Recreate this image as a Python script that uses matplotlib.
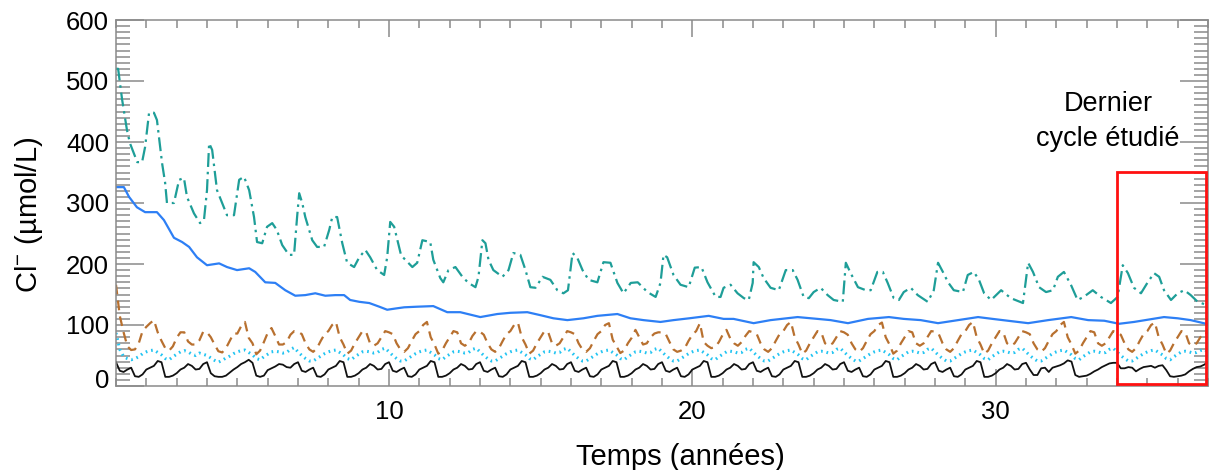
import numpy as np
import matplotlib.pyplot as plt
import matplotlib.transforms as mtransforms
from matplotlib.patches import Rectangle
from matplotlib.ticker import MultipleLocator

plt.rcParams['font.family'] = ['Liberation Sans', 'DejaVu Sans']
plt.rcParams['mathtext.fontset'] = 'custom'
plt.rcParams['mathtext.rm'] = 'Liberation Sans'
plt.rcParams['lines.scale_dashes'] = False

# teal dash-dot series (years, umol/L), turning points
teal_t = [1.0, 1.07, 1.2, 1.36, 1.46, 1.7, 1.86, 1.96, 2.09, 2.25, 2.35, 2.52, 2.62, 2.68, 2.91,
          3.08, 3.24, 3.34, 3.57, 3.77, 3.9, 4.0, 4.07, 4.17, 4.33, 4.5, 4.66, 4.89, 5.06, 5.22,
          5.39, 5.55, 5.65, 5.82, 5.98, 6.15, 6.3, 6.48, 6.7, 6.87, 6.97, 7.04, 7.14, 7.24, 7.47,
          7.63, 7.86, 8.03, 8.13, 8.29, 8.46, 8.62, 8.85, 9.02, 9.22, 9.38, 9.61, 9.84, 9.94,
          10.04, 10.17, 10.4, 10.77, 10.93, 11.1, 11.36, 11.46, 11.69, 11.79, 11.96, 12.19, 12.42,
          12.62, 12.85, 12.95, 13.08, 13.18, 13.28, 13.44, 13.74, 13.94, 14.1, 14.33, 14.5, 14.66,
          14.83, 15.06, 15.32, 15.55, 15.75, 15.9, 16.05, 16.2, 16.38, 16.58, 16.87, 17.07, 17.3,
          17.53, 17.73, 17.97, 18.2, 18.52, 18.79, 18.95, 19.05, 19.17, 19.38, 19.61, 19.88, 20.08,
          20.3, 20.5, 20.6, 20.77, 20.93, 21.03, 21.26, 21.49, 21.7, 21.86, 21.99, 22.02, 22.19,
          22.35, 22.58, 22.85, 23.08, 23.31, 23.47, 23.67, 23.84, 24.0, 24.23, 24.46, 24.66, 24.96,
          25.06, 25.22, 25.46, 25.72, 25.88, 26.1, 26.28, 26.44, 26.64, 26.81, 26.97, 27.2, 27.43,
          27.76, 27.96, 28.1, 28.26, 28.43, 28.62, 28.92, 29.08, 29.28, 29.45, 29.62, 29.85, 30.18,
          30.5, 30.9, 31.07, 31.23, 31.43, 31.66, 31.89, 32.05, 32.25, 32.48, 32.7, 32.9, 33.2,
          33.47, 33.8, 34.02, 34.19, 34.36, 34.56, 34.79, 35.0, 35.22, 35.39, 35.55, 35.78, 36.0,
          36.22, 36.43, 36.66, 36.94, 37.0]
teal_v = [520, 520, 470, 420, 398, 367, 367, 392, 448, 448, 436, 365, 333, 300, 300,
          338, 341, 310, 283, 267, 272, 321, 398, 387, 321, 300, 280, 280, 338, 343,
          321, 277, 236, 234, 261, 267, 256, 231, 215, 215, 277, 316, 300, 277, 239,
          228, 228, 256, 277, 277, 234, 202, 195, 211, 223, 211, 190, 182, 211,
          269, 261, 214, 195, 202, 239, 236, 207, 177, 170, 190, 195, 179,
          169, 162, 179, 239, 234, 207, 190, 179, 190, 218, 215, 190, 162,
          161, 179, 174, 157, 152, 157, 218, 211, 190, 174, 170, 203, 202,
          169, 152, 169, 170, 154, 146, 169, 215, 211, 182, 166, 162, 194,
          195, 170, 161, 146, 146, 161, 166, 152, 144, 141, 169, 203, 195,
          177, 161, 157, 190, 190, 174, 146, 144, 154, 161, 149, 141, 138,
          202, 185, 162, 157, 157, 187, 187, 169, 144, 141, 154, 161, 149,
          138, 157, 202, 187, 170, 157, 154, 182, 187, 174, 152, 141, 157,
          144, 136, 202, 187, 162, 154, 157, 179, 187, 166, 141, 146, 157,
          146, 136, 146, 198, 185, 161, 152, 169, 185, 179, 157, 141, 152,
          157, 149, 138, 133, 132]

# blue solid series
blue_t = [1.0, 1.26, 1.43, 1.69, 1.96, 2.35, 2.58, 2.91, 3.18, 3.41, 3.67, 4.0, 4.4, 4.66, 4.99,
          5.39, 5.59, 5.92, 6.25, 6.58, 6.91, 7.24, 7.57, 7.9, 8.23, 8.52, 8.72, 9.02, 9.35, 9.68,
          9.94, 10.21, 10.5, 10.93, 11.46, 11.92, 12.35, 13.01, 13.57, 14.0, 14.56, 15.0, 15.42,
          15.88, 16.41, 16.87, 17.53, 17.96, 18.39, 18.95, 19.38, 19.9, 20.54, 21.03, 21.36, 22.02,
          22.58, 23.47, 24.13, 24.56, 25.13, 25.79, 26.48, 26.97, 27.53, 28.1, 28.76, 29.42, 29.9,
          30.4, 31.07, 31.73, 32.49, 33.05, 33.58, 34.07, 34.56, 35.55, 36.0, 36.43, 36.94, 37.0]
blue_v = [326, 326, 310, 293, 285, 285, 272, 243, 236, 228, 211, 198, 201, 195, 190,
          193, 187, 170, 169, 157, 148, 149, 152, 148, 149, 149, 141, 138, 136, 130,
          125, 127, 129, 130, 131, 121, 121, 113, 118, 120, 121, 116, 111,
          108, 111, 115, 118, 111, 108, 105, 108, 111, 115, 110, 110, 103,
          108, 113, 110, 108, 103, 110, 113, 110, 108, 103, 108, 113, 110,
          107, 103, 108, 113, 108, 107, 102, 105, 113, 111, 108, 102, 101]

# lower series, sampled every 1/8 year; one row per 3-year cycle (1-4, 4-7, ..., 34-37)
brown_rows = [
    [166, 115, 88, 65, 59, 60, 70, 90, 97, 103, 108, 88, 74, 62, 58, 65, 79, 88, 88, 73, 68, 68, 75, 89],
    [88, 80, 68, 57, 55, 62, 74, 86, 86, 98, 105, 79, 70, 52, 58, 72, 87, 95, 82, 68, 68, 72, 84, 90],
    [89, 85, 70, 60, 56, 62, 74, 85, 90, 100, 105, 80, 68, 53, 58, 70, 80, 90, 88, 70, 66, 70, 80, 90],
    [88, 85, 70, 60, 56, 62, 74, 85, 90, 100, 105, 80, 68, 53, 58, 70, 80, 90, 88, 70, 66, 70, 82, 90],
    [89, 84, 70, 60, 56, 62, 74, 85, 90, 100, 104, 80, 68, 53, 58, 70, 80, 90, 88, 70, 66, 70, 80, 90],
    [88, 85, 70, 60, 56, 62, 74, 85, 90, 100, 103, 76, 65, 54, 58, 70, 79, 92, 80, 68, 70, 80, 86, 88],
    [88, 85, 72, 60, 56, 58, 62, 74, 84, 90, 103, 72, 66, 62, 64, 72, 84, 92, 78, 70, 66, 72, 82, 90],
    [88, 85, 70, 60, 56, 62, 74, 85, 90, 100, 105, 80, 68, 53, 58, 70, 80, 90, 88, 70, 66, 70, 80, 90],
    [88, 84, 70, 60, 56, 62, 74, 85, 90, 100, 104, 80, 68, 53, 58, 70, 80, 90, 88, 70, 66, 70, 80, 90],
    [89, 85, 70, 60, 56, 62, 74, 85, 90, 100, 105, 80, 68, 53, 58, 70, 80, 90, 88, 70, 66, 70, 80, 90],
    [88, 85, 70, 60, 56, 62, 74, 85, 90, 100, 105, 80, 68, 53, 58, 70, 80, 90, 88, 70, 66, 70, 80, 90],
    [88, 84, 70, 60, 56, 62, 74, 85, 90, 100, 104, 80, 68, 53, 58, 70, 80, 90, 88, 70, 66, 70, 80, 88],
]
brown_end = 86

cyan_rows = [
    [87, 60, 48, 45, 43, 45, 48, 53, 56, 58, 59, 55, 51, 45, 43, 48, 52, 56, 58, 56, 52, 50, 54, 52],
    [50, 46, 42, 39, 42, 46, 49, 53, 56, 58, 59, 55, 51, 45, 43, 48, 52, 56, 57, 56, 54, 55, 60, 63],
    [56, 50, 45, 41, 41, 45, 49, 53, 56, 58, 59, 55, 51, 45, 43, 48, 52, 56, 57, 56, 54, 55, 60, 62],
    [56, 50, 45, 41, 41, 45, 49, 53, 56, 58, 59, 55, 51, 45, 43, 48, 52, 56, 57, 56, 54, 55, 60, 62],
    [56, 50, 45, 41, 41, 45, 49, 53, 56, 58, 59, 55, 51, 45, 43, 48, 52, 56, 57, 56, 54, 55, 60, 62],
    [56, 50, 45, 41, 41, 45, 49, 53, 56, 58, 59, 55, 51, 45, 43, 48, 52, 56, 57, 56, 54, 55, 60, 62],
    [56, 50, 45, 41, 41, 45, 49, 53, 56, 58, 59, 55, 51, 45, 43, 48, 52, 56, 57, 56, 54, 55, 60, 62],
    [56, 50, 45, 41, 41, 45, 49, 53, 56, 58, 59, 55, 51, 45, 43, 48, 52, 56, 57, 56, 54, 55, 60, 62],
    [56, 50, 45, 41, 41, 45, 49, 53, 56, 58, 59, 55, 51, 45, 43, 48, 52, 56, 57, 56, 54, 55, 60, 62],
    [56, 50, 45, 41, 41, 45, 49, 53, 56, 58, 59, 55, 51, 45, 43, 48, 52, 56, 57, 56, 54, 55, 60, 62],
    [56, 50, 45, 41, 41, 45, 49, 53, 56, 58, 59, 55, 51, 45, 43, 48, 52, 56, 57, 56, 54, 55, 60, 62],
    [56, 50, 45, 41, 41, 45, 49, 53, 56, 58, 59, 55, 51, 45, 43, 48, 52, 56, 57, 56, 54, 55, 58, 60],
]
cyan_end = 56

black_rows = [
    [39, 25, 23, 27, 30, 16, 15, 19, 27, 30, 33, 41, 39, 15, 15, 17, 21, 27, 30, 36, 33, 27, 28, 36],
    [39, 21, 16, 15, 15, 17, 22, 27, 31, 36, 39, 43, 38, 17, 15, 17, 26, 29, 32, 36, 35, 31, 30, 36],
    [39, 25, 23, 27, 30, 16, 15, 19, 27, 30, 33, 41, 39, 15, 15, 17, 21, 27, 30, 36, 33, 27, 28, 36],
    [39, 25, 23, 27, 30, 16, 15, 19, 27, 30, 33, 41, 39, 15, 15, 17, 21, 27, 30, 36, 33, 27, 28, 36],
    [39, 25, 23, 27, 30, 16, 15, 19, 27, 30, 33, 41, 39, 15, 15, 17, 21, 27, 30, 36, 33, 27, 28, 36],
    [39, 25, 23, 27, 30, 16, 15, 19, 27, 30, 33, 41, 39, 15, 15, 17, 21, 27, 30, 36, 33, 27, 28, 36],
    [39, 25, 23, 27, 30, 16, 15, 19, 27, 30, 33, 41, 39, 15, 15, 17, 21, 27, 30, 36, 33, 27, 28, 36],
    [39, 25, 23, 27, 30, 16, 15, 19, 27, 30, 33, 41, 39, 15, 15, 17, 21, 27, 30, 36, 33, 27, 28, 36],
    [39, 25, 23, 27, 30, 16, 15, 19, 27, 30, 33, 41, 39, 15, 15, 17, 21, 27, 30, 36, 33, 27, 28, 36],
    [39, 25, 23, 27, 30, 16, 15, 19, 27, 30, 33, 41, 39, 15, 15, 17, 21, 27, 30, 36, 33, 27, 28, 36],
    [38, 27, 18, 18, 29, 30, 23, 30, 32, 34, 37, 42, 40, 18, 15, 16, 17, 20, 24, 27, 31, 34, 37, 38],
    [38, 29, 29, 31, 30, 24, 28, 31, 32, 33, 30, 33, 34, 26, 16, 15, 16, 17, 19, 24, 28, 31, 32, 35],
]
black_end = 39

brown = np.array(sum(brown_rows, []) + [brown_end])
cyan = np.array(sum(cyan_rows, []) + [cyan_end])
black = np.array(sum(black_rows, []) + [black_end])
t_low = 1 + np.arange(len(black)) / 8

fig = plt.figure(figsize=(12.1, 4.7), dpi=100)
ax = fig.add_axes([116 / 1210, 1 - 386 / 470, 1092 / 1210, 366 / 470])

ax.plot(teal_t, teal_v, color='#1e9e98', lw=1.6, linestyle=(0, (10, 3.5, 1.8, 3.5)))
ax.plot(blue_t, blue_v, color='#2d7ff5', lw=1.6)
ax.plot(t_low, brown, color='#b8702f', lw=1.6, linestyle=(0, (7, 4.5)))
ax.plot(t_low, cyan, color='#22c4f2', lw=2.2, linestyle=(0, (1.2, 2.8)))
ax.plot(t_low, black, color='#111111', lw=1.3)

ax.add_patch(Rectangle((34, 3), 2.93, 347, fill=False, edgecolor='#ff1010', lw=2, zorder=5))
ax.text(33.7, 433, 'Dernier\ncycle étudié', ha='center', va='center', fontsize=19.5,
        linespacing=1.45)

ax.set_xlim(1, 37)
ax.set_ylim(0, 600)
ax.xaxis.set_major_locator(MultipleLocator(10))
ax.xaxis.set_minor_locator(MultipleLocator(1))
ax.yaxis.set_major_locator(MultipleLocator(100))
ax.yaxis.set_minor_locator(MultipleLocator(10))
ax.tick_params(which='both', direction='in', top=True, right=True, color='#8a8a8a',
               labelsize=18.5, width=1.1)
ax.tick_params(axis='y', which='major', length=20, pad=5)
ax.tick_params(axis='y', which='minor', length=10)
ax.tick_params(axis='x', which='major', length=12, pad=10)
ax.tick_params(axis='x', which='minor', length=6)
for s in ax.spines.values():
    s.set_color('#8a8a8a')
    s.set_linewidth(1.1)

ax.set_xlabel('Temps (années)', fontsize=21, labelpad=14)
ax.set_ylabel(r'Cl$^{-}$ (µmol/L)', fontsize=21, labelpad=15)
ax.xaxis.label.set_x(0.517)
ax.yaxis.label.set_y(0.467)

# the "0" label sits a little above the bottom axis in the original
fig.canvas.draw()
for tick in ax.yaxis.get_major_ticks():
    if abs(tick.get_loc()) < 1e-9:
        lab = tick.label1
        lab.set_transform(lab.get_transform()
                          + mtransforms.ScaledTranslation(0, 8 / 100, fig.dpi_scale_trans))

fig.savefig('out.png', dpi=100)
